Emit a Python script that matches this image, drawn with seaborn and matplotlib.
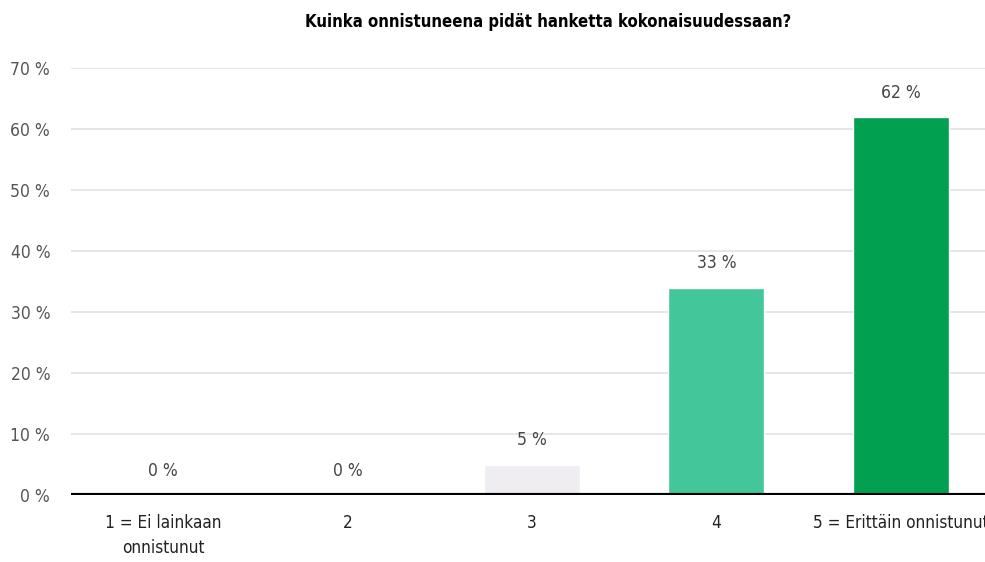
import matplotlib
matplotlib.use("Agg")
import matplotlib.pyplot as plt
import seaborn as sns
import pandas as pd

categories = ["1 = Ei lainkaan\nonnistunut", "2", "3", "4", "5 = Erittäin onnistunut"]
values = [0, 0, 5, 34, 62]
labels = ["0 %", "0 %", "5 %", "33 %", "62 %"]
colors = ["#EFEDF2", "#EFEDF2", "#EFEDF2", "#43C79A", "#00A050"]
yticks = [0, 10, 20, 30, 40, 50, 60, 70]
title = "Kuinka onnistuneena pidät hanketta kokonaisuudessaan?"

sns.set_theme(style="white")
plt.rcParams['font.family'] = ['DejaVu Sans']
plt.rcParams['font.stretch'] = 'condensed'

df = pd.DataFrame({"cat": categories, "val": values})

fig = plt.figure(figsize=(9.85, 5.62), dpi=100)
W, H = 985, 562
ax = fig.add_axes([71 / W, (H - 495) / H, (993 - 71) / W, (495 - 68) / H])

sns.barplot(data=df, x="cat", y="val", hue="cat", palette=colors, legend=False,
            width=0.52, ax=ax, saturation=1)

ax.set_ylim(0, 70)
ax.set_xlim(-0.5, 4.5)
ax.set_yticks(yticks)
ax.set_yticklabels([f"{t} %" for t in yticks], color="#555555", fontsize=12.5)
ax.tick_params(axis="y", length=0, pad=15)
ax.tick_params(axis="x", length=0, pad=14, labelsize=12.3, labelcolor="#222222")
for lbl in ax.get_xticklabels():
    lbl.set_linespacing(1.5)
for t in yticks[1:]:
    ax.axhline(t, color="#E2E2E2", lw=1.2, zorder=0)
ax.axhline(0, color="black", lw=3, zorder=5)
for s in ax.spines.values():
    s.set_visible(False)
ax.set_xlabel("")
ax.set_ylabel("")

for i, (v, lab) in enumerate(zip(values, labels)):
    ax.text(i, v + 2.5, lab, ha="center", va="bottom", fontsize=12.5, color="#444444")

fig.text(548 / W, 1 - 22 / H, title, ha="center", va="center", fontsize=12,
         fontweight="bold", color="black")

fig.savefig("out.png", dpi=100)
